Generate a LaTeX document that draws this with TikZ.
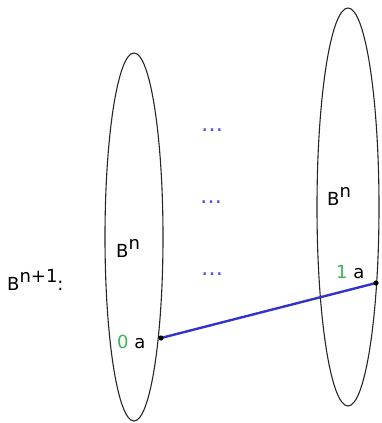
\documentclass[tikz,border=0pt]{standalone}
\usepackage{fontspec}
\setmainfont{DejaVu Sans}
\usepackage{tikz}
\usetikzlibrary{calc}

\definecolor{linkblue}{RGB}{51,51,204}
\definecolor{dotblue}{RGB}{80,80,230}
\definecolor{idgreen}{RGB}{60,180,90}

\newcommand{\supn}[1]{\raisebox{8pt}{#1}}

\tikzset{
    lbl/.style={anchor=base west, inner sep=0pt, font=\fontsize{18}{21}\selectfont},
    gap/.style={lbl, text=dotblue, font=\fontsize{22}{24}\selectfont}
}

\begin{document}
\begin{tikzpicture}[x=1pt, y=-1pt]
        % --- 1. Parameters ---
        \def\leftX{134}
        \def\leftY{237}
        \def\rightX{348}
        \def\rightY{207}

        \useasboundingbox (0,0) rectangle (381,423);

        % --- 2. The two balls ---
        \draw[black!85, line width=1.1pt] (\leftX,\leftY) ellipse (29 and 184);
        \draw[black!85, line width=1.1pt] (\rightX,\rightY) ellipse (31 and 199);

        \node[lbl] (bl) at (116,257) {B\supn{n}};
        \node[lbl] (br) at (327,205) {B\supn{n}};
        \node[lbl] (bn) at (7,290) {B\supn{n+1}:};

        % --- 3. Dots in between ---
        \node[gap] (d1) at (201,131) {…};
        \node[gap] (d2) at (200,203) {…};
        \node[gap] (d3) at (201,275) {…};

        % --- 4. Points and the segment ---
        \coordinate (P0) at (161,338);
        \coordinate (P1) at (376,283);
        \node[lbl] (l0) at (117,348) {\textcolor{idgreen}{0} a};
        \node[lbl] (r1) at (336,278) {\textcolor{idgreen}{1} a};

        \draw[linkblue, line width=2.4pt] (P0) -- (P1);
        \fill (P0) circle (2.6pt);
        \fill (P1) circle (2.6pt);
    \end{tikzpicture}
\end{document}
